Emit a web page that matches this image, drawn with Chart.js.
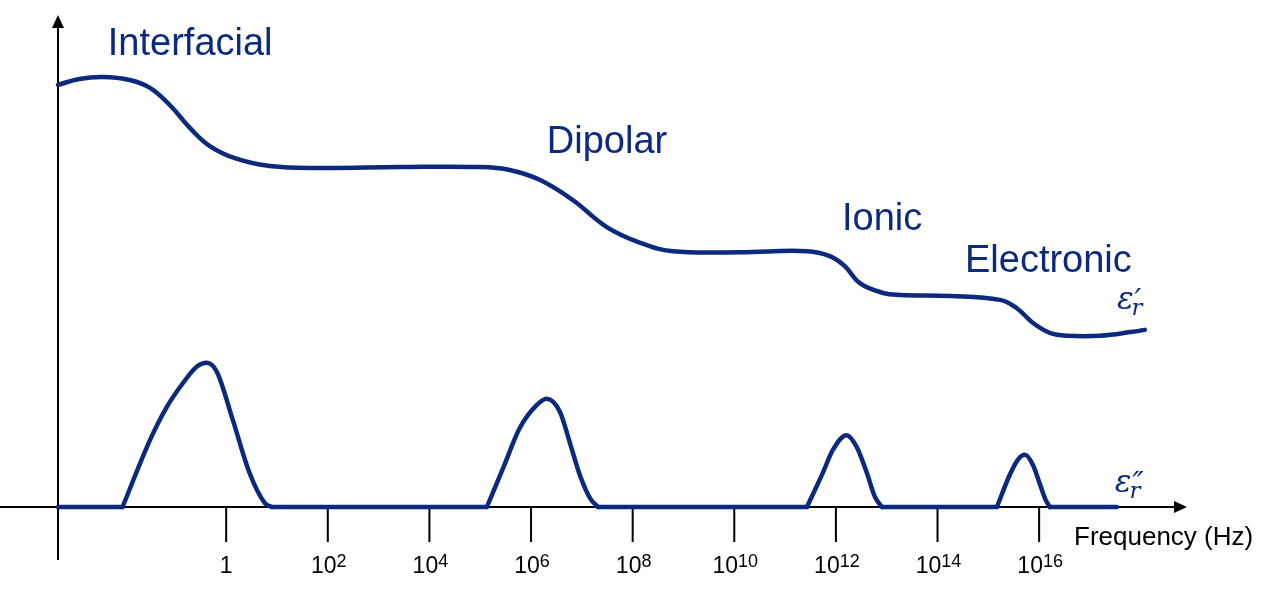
<!DOCTYPE html>
<html lang="en">
<head>
<meta charset="UTF-8">
<title>Dielectric dispersion</title>
<script src="https://cdn.jsdelivr.net/npm/chart.js"></script>
<style>
  * { margin: 0; padding: 0; box-sizing: border-box; }
  html, body { width: 1280px; height: 595px; background: #fff; overflow: hidden; }
  .wrap { position: relative; width: 1280px; height: 595px; }
</style>
</head>
<body>
<div class="wrap"><canvas id="chart"></canvas></div>
<script>
// x = log10(frequency / Hz), y = permittivity (arbitrary units)
const realLogF = [-3.31, -2.89, -2.43, -1.90, -1.50, -1.11, -0.71, -0.33, 0.17, 0.86, 1.85, 3.42, 5.00, 5.58, 6.17, 6.82, 7.49, 8.15, 8.79, 10.11, 11.43, 11.88, 12.17, 12.47, 12.93, 13.26, 14.25, 15.23, 15.56, 15.88, 16.21, 16.55, 17.20, 17.84, 18.08];
const realEps  = [85.8, 87.0, 87.4, 86.8, 85.2, 81.7, 77.0, 73.4, 70.9, 69.3, 68.9, 69.1, 69.1, 68.5, 66.5, 62.4, 56.9, 53.7, 52.0, 51.8, 52.0, 51.0, 49.0, 45.5, 43.5, 43.1, 42.9, 42.1, 40.4, 37.4, 35.4, 34.8, 34.8, 35.6, 36.0];

const imagLogF = [-3.31, -2.04, -1.50, -1.17, -0.85, -0.57, -0.38, -0.18, 0.13, 0.46, 0.76, 0.90,
                  5.13, 5.45, 5.78, 6.11, 6.31, 6.57, 6.76, 6.96, 7.16, 7.32,
                  11.43, 11.74, 11.94, 12.21, 12.41, 12.61, 12.77, 12.91,
                  15.17, 15.42, 15.58, 15.72, 15.88, 16.02, 16.13, 16.21, 17.53];
const imagEps  = [0, 0, 13.6, 20.3, 25.2, 28.6, 29.3, 27.4, 17.7, 6.9, 0.8, 0,
                  0, 7.9, 16.1, 20.7, 22.0, 19.3, 13.2, 6.5, 1.8, 0,
                  0, 6.9, 11.6, 14.6, 12.2, 6.9, 2.0, 0,
                  0, 6.5, 9.6, 10.6, 8.5, 4.5, 1.4, 0, 0];

const tickExponents = [0, 2, 4, 6, 8, 10, 12, 14, 16];
const mechanisms = ['Interfacial', 'Dipolar', 'Ionic', 'Electronic'];

const NAVY = '#0b2a7d';
const SANS = '"Liberation Sans", Arial, sans-serif';
const SERIF = '"DejaVu Serif", "Liberation Serif", serif';

// split eps'' into flat baseline runs and separate loss peaks
function baselineRuns(xs, ys) {
  const out = [];
  for (let i = 0; i < xs.length; i++) {
    if (ys[i] === 0 && (ys[i - 1] === 0 || ys[i + 1] === 0)) out.push({ x: xs[i], y: 0 });
    else if (ys[i] > 0 && out.length && out[out.length - 1].y !== null) out.push({ x: xs[i], y: null });
  }
  return out;
}
function peakRuns(xs, ys) {
  const segs = [];
  let cur = null;
  for (let i = 0; i < xs.length; i++) {
    if (ys[i] > 0) {
      if (!cur) cur = [{ x: xs[i - 1], y: ys[i - 1] }];
      cur.push({ x: xs[i], y: ys[i] });
    } else if (cur) {
      cur.push({ x: xs[i], y: ys[i] });
      segs.push(cur);
      cur = null;
    }
  }
  return segs;
}

const schematic = {
  id: 'schematic',
  beforeDatasetsDraw(chart, args, opts) {
    const { ctx, chartArea: a, scales: { x, y } } = chart;
    const y0 = y.getPixelForValue(0);
    const x0 = x.getPixelForValue(x.min);
    ctx.save();
    ctx.strokeStyle = '#000';
    ctx.fillStyle = '#000';
    ctx.lineWidth = 2;
    ctx.beginPath();
    ctx.moveTo(0, y0); ctx.lineTo(a.right - 12, y0);
    ctx.moveTo(x0, y0 + 53); ctx.lineTo(x0, a.top + 11);
    tickExponents.forEach(e => {
      const px = x.getPixelForValue(e);
      ctx.moveTo(px, y0); ctx.lineTo(px, y0 + 35);
    });
    ctx.stroke();
    // arrow heads
    ctx.beginPath();
    ctx.moveTo(a.right, y0); ctx.lineTo(a.right - 13, y0 - 6); ctx.lineTo(a.right - 13, y0 + 6);
    ctx.fill();
    ctx.beginPath();
    ctx.moveTo(x0, a.top); ctx.lineTo(x0 - 6, a.top + 13); ctx.lineTo(x0 + 6, a.top + 13);
    ctx.fill();
    ctx.restore();
  },
  afterDraw(chart, args, opts) {
    const { ctx, scales: { x, y } } = chart;
    const y0 = y.getPixelForValue(0);
    ctx.save();
    ctx.fillStyle = '#000';
    ctx.textBaseline = 'alphabetic';
    // tick labels: 1, 10^2 ... 10^16
    tickExponents.forEach(e => {
      const px = x.getPixelForValue(e);
      if (e === 0) {
        ctx.font = '23px ' + SANS;
        ctx.textAlign = 'center';
        ctx.fillText('1', px, y0 + 66);
        return;
      }
      ctx.textAlign = 'left';
      ctx.font = '23px ' + SANS;
      const wBase = ctx.measureText('10').width;
      ctx.font = '18px ' + SANS;
      const wExp = ctx.measureText(String(e)).width;
      const left = px - (wBase + wExp) / 2 + 1;
      ctx.font = '23px ' + SANS;
      ctx.fillText('10', left, y0 + 66);
      ctx.font = '18px ' + SANS;
      ctx.fillText(String(e), left + wBase, y0 + 60);
    });
    ctx.font = '26px ' + SANS;
    ctx.textAlign = 'left';
    ctx.fillText('Frequency (Hz)', 1074, y0 + 38);

    // mechanism labels
    ctx.fillStyle = NAVY;
    ctx.font = '38px ' + SANS;
    mechanisms.forEach((m, i) => {
      const p = opts.labelAt[i];
      ctx.fillText(m, x.getPixelForValue(p[0]), y.getPixelForValue(p[1]));
    });

    // curve names: eps'_r and eps''_r
    const epsLabel = (px, py, primes) => {
      ctx.font = 'italic 31px ' + SERIF;
      ctx.fillText('\u03B5', px, py);
      const w = ctx.measureText('\u03B5').width;
      ctx.font = 'italic 23px ' + SERIF;
      ctx.fillText('r', px + w - 2, py + 6);
      ctx.font = 'italic 30px ' + SERIF;
      ctx.fillText(primes, px + w + 1, py + 1);
    };
    epsLabel(x.getPixelForValue(opts.realName[0]), y.getPixelForValue(opts.realName[1]), '\u2032');
    epsLabel(x.getPixelForValue(opts.imagName[0]), y.getPixelForValue(opts.imagName[1]), '\u2033');
    ctx.restore();
  }
};

const line = (label, data, extra) => Object.assign({
  label, data,
  borderColor: NAVY,
  borderWidth: 4.5,
  borderCapStyle: 'round',
  borderJoinStyle: 'round',
  pointRadius: 0,
  tension: 0.4,
  clip: false
}, extra || {});

const datasets = [
  line("\u03B5'r", realLogF.map((v, i) => ({ x: v, y: realEps[i] }))),
  line("\u03B5''r", baselineRuns(imagLogF, imagEps), { tension: 0, spanGaps: false })
];
peakRuns(imagLogF, imagEps).forEach(seg => datasets.push(line("\u03B5''r", seg, { cubicInterpolationMode: 'monotone' })));

new Chart(document.getElementById('chart'), {
  type: 'line',
  data: { datasets },
  options: {
    responsive: true,
    maintainAspectRatio: false,
    animation: false,
    layout: { padding: { left: 58, right: 93, top: 15, bottom: 88 } },
    scales: {
      x: { type: 'linear', min: -3.31, max: 18.91, display: false },
      y: { type: 'linear', min: 0, max: 100, display: false }
    },
    plugins: {
      legend: { display: false },
      tooltip: { enabled: false },
      schematic: {
        labelAt: [[-2.33, 91.9], [6.31, 71.95], [12.12, 56.3], [14.54, 47.8]],
        realName: [17.53, 40.2],
        imagName: [17.49, 3.1]
      }
    }
  },
  plugins: [schematic]
});
</script>
</body>
</html>
